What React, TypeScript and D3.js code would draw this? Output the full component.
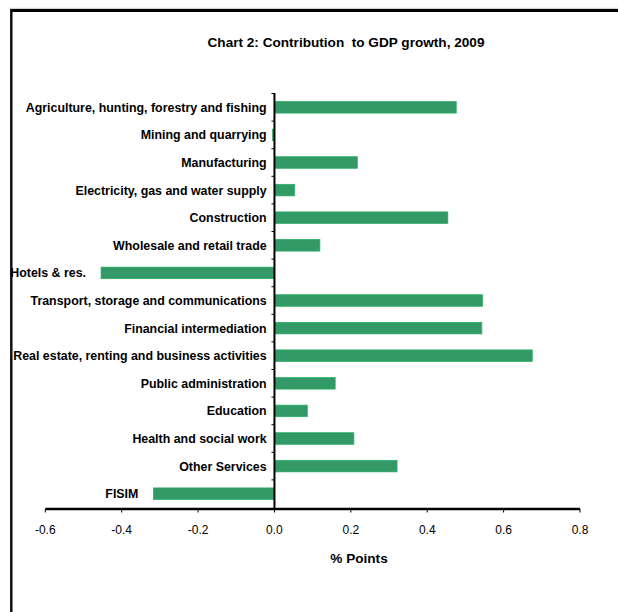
import React from "react";
import * as d3 from "d3";

const categories: string[] = [
  "Agriculture, hunting, forestry and fishing",
  "Mining and quarrying",
  "Manufacturing",
  "Electricity, gas and water supply",
  "Construction",
  "Wholesale and retail trade",
  "Hotels & res.",
  "Transport, storage and communications",
  "Financial intermediation",
  "Real estate, renting and business activities",
  "Public administration",
  "Education",
  "Health and social work",
  "Other Services",
  "FISIM",
];

const values: number[] = [
  0.476, -0.005, 0.217, 0.053, 0.454, 0.119, -0.454, 0.545, 0.543, 0.675,
  0.159, 0.086, 0.208, 0.321, -0.317,
];

const xTicks: number[] = [-0.6, -0.4, -0.2, 0.0, 0.2, 0.4, 0.6, 0.8];

const title = "Chart 2: Contribution  to GDP growth, 2009";
const xTitle = "% Points";

const W = 618;
const H = 612;

export default function App() {
  const x = d3.scaleLinear().domain([-0.6, 0.8]).range([45.3, 580]);
  const y = d3
    .scaleBand<string>()
    .domain(categories)
    .range([93.5, 507.5])
    .paddingInner(0.58)
    .paddingOuter(0.29);
  const step = y.step();
  const axisY = 509;
  const x0 = x(0);
  const font = "'Liberation Sans', Arial, sans-serif";

  return (
    <svg
      width={W}
      height={H}
      style={{ position: "absolute", left: 0, top: 0, background: "#fff" }}
      fontFamily={font}
    >
      {/* frame */}
      <line x1={10} y1={8.3} x2={W} y2={8.3} stroke="#ccc" strokeWidth={1} />
      <line x1={10} y1={10.5} x2={W} y2={10.5} stroke="#000" strokeWidth={3} />
      <line x1={11.3} y1={9} x2={11.3} y2={H} stroke="#111" strokeWidth={2.5} />

      <text
        x={346}
        y={47}
        textAnchor="middle"
        fontSize={13.6}
        fontWeight="bold"
        style={{ whiteSpace: "pre" }}
      >
        {title}
      </text>

      {/* bars */}
      {categories.map((c, i) => {
        const v = values[i];
        const bx = x(Math.min(0, v));
        const bw = Math.abs(x(v) - x0);
        return (
          <rect
            key={c}
            x={bx}
            y={y(c)!}
            width={Math.max(bw, 1.5)}
            height={y.bandwidth()}
            fill="#339966"
            stroke="#22b060"
            strokeWidth={0.7}
          />
        );
      })}

      {/* category labels */}
      {categories.map((c, i) => {
        const v = values[i];
        const anchorX = v < -0.1 ? x(v) - 15 : x0 - 7.8;
        return (
          <text
            key={"l" + c}
            x={anchorX}
            y={y(c)! + y.bandwidth() / 2 + 4.4}
            textAnchor="end"
            fontSize={12.4}
            fontWeight="bold"
            fill="#000"
          >
            {c}
          </text>
        );
      })}

      {/* vertical axis and category ticks */}
      <line x1={x0} y1={93} x2={x0} y2={axisY} stroke="#000" strokeWidth={2} />
      {categories.map((c, i) => (
        <line
          key={"t" + c}
          x1={x0 - 3}
          x2={x0}
          y1={93.5 + i * step}
          y2={93.5 + i * step}
          stroke="#000"
          strokeWidth={1}
        />
      ))}

      {/* x axis */}
      <line x1={x(-0.6)} y1={axisY} x2={x(0.8)} y2={axisY} stroke="#000" strokeWidth={2.5} />
      {xTicks.map((t) => (
        <g key={"x" + t}>
          <line x1={x(t)} x2={x(t)} y1={axisY} y2={axisY + 3.5} stroke="#000" strokeWidth={1} />
          <text x={x(t)} y={533.5} textAnchor="middle" fontSize={12} fill="#000">
            {t.toFixed(1)}
          </text>
        </g>
      ))}

      <text x={359} y={562.5} textAnchor="middle" fontSize={13.6} fontWeight="bold">
        {xTitle}
      </text>
    </svg>
  );
}
